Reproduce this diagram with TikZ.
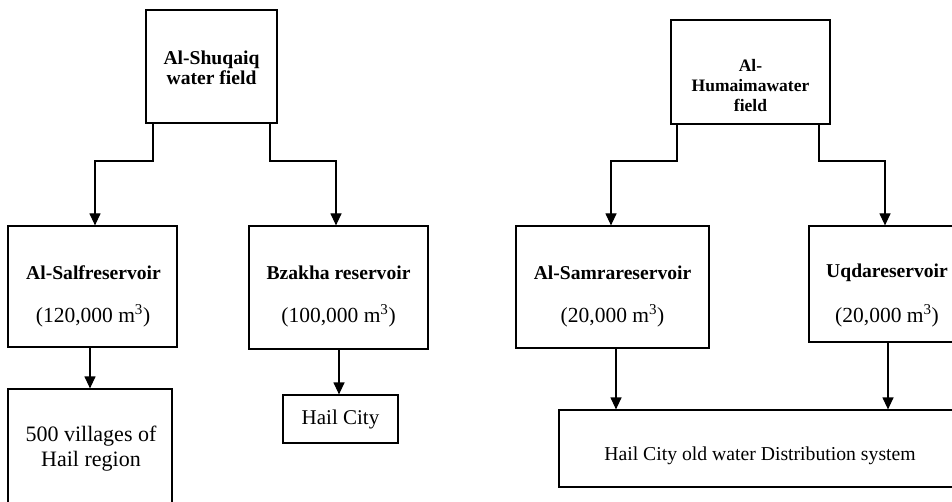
\documentclass[tikz,border=0pt]{standalone}
\usepackage{fontspec}
\setmainfont{Liberation Serif}
\usetikzlibrary{arrows.meta,calc}
\begin{document}
\begin{tikzpicture}[x=1pt,y=-1pt,
  box/.style={draw=black,line width=1.2pt,inner sep=0pt,minimum width=#1},
  lbl/.style={inner sep=0pt,align=center},
  arr/.style={line width=1.2pt,-{Triangle[width=11pt,length=12pt]}},
  ln/.style={line width=1.2pt}]
\clip (0,0) rectangle (952,502);
\fill[white] (0,0) rectangle (952,502);
% boxes
\node[box=131pt,minimum height=113pt] (shq) at (211.5,66.5) {};
\node[box=159pt,minimum height=104pt] (hum) at (750.5,72) {};
\node[box=169pt,minimum height=121pt] (salf) at (92.5,286.5) {};
\node[box=179pt,minimum height=123pt] (bza) at (338.5,287.5) {};
\node[box=193pt,minimum height=122pt] (sam) at (612.5,287) {};
\node[box=157pt,minimum height=116pt] (uqd) at (887.5,284) {};
\node[box=164pt,minimum height=120pt] (vil) at (90,449) {};
\node[box=115pt,minimum height=48pt] (hail) at (340.5,419) {};
\node[box=402pt,minimum height=77pt] (dist) at (760,448.5) {};
% texts
\node[lbl,font=\fontsize{19.6}{20}\selectfont\bfseries] (shqt) at (211.5,68) {Al-Shuqaiq\\water field};
\node[lbl,font=\fontsize{17.5}{20}\selectfont\bfseries] (humt) at (750.5,86) {Al-\\Humaimawater\\field};
\node[lbl,font=\fontsize{19.6}{20}\selectfont\bfseries] (salft) at (93.5,273) {Al-Salfreservoir};
\node[lbl,font=\fontsize{21.5}{22}\selectfont] (salfv) at (93,316) {(120,000 m\textsuperscript{3})};
\node[lbl,font=\fontsize{19.6}{20}\selectfont\bfseries] (bzat) at (338.5,273) {Bzakha reservoir};
\node[lbl,font=\fontsize{21.5}{22}\selectfont] (bzav) at (338.5,316) {(100,000 m\textsuperscript{3})};
\node[lbl,font=\fontsize{19.6}{20}\selectfont\bfseries] (samt) at (612.5,273) {Al-Samrareservoir};
\node[lbl,font=\fontsize{21.5}{22}\selectfont] (samv) at (612.5,316) {(20,000 m\textsuperscript{3})};
\node[lbl,font=\fontsize{19.6}{20}\selectfont\bfseries] (uqdt) at (887,273) {Uqdareservoir};
\node[lbl,font=\fontsize{21.5}{22}\selectfont] (uqdv) at (887,316) {(20,000 m\textsuperscript{3})};
\node[lbl,font=\fontsize{22}{25}\selectfont] (vilt) at (91,449) {500 villages of\\Hail region};
\node[lbl,font=\fontsize{21}{22}\selectfont] (hailt) at (340.5,419) {Hail City};
\node[lbl,font=\fontsize{19.7}{22}\selectfont] (distt) at (760,456) {Hail City old water Distribution system};
% connectors
\draw[arr] (shq.south -| 153,0) -- (153,161) -| (salf.north -| 95,0);
\draw[arr] (shq.south -| 270,0) -- (270,161) -| (bza.north -| 336,0);
\draw[arr] (hum.south -| 677,0) -- (677,161) -| (sam.north -| 611,0);
\draw[arr] (hum.south -| 819,0) -- (819,161) -| (uqd.north -| 885,0);
\draw[arr] (salf.south -| 90,0) -- (vil.north -| 90,0);
\draw[arr] (bza.south -| 339,0) -- (hail.north -| 339,0);
\draw[arr] (sam.south -| 616,0) -- (dist.north -| 616,0);
\draw[arr] (uqd.south -| 888,0) -- (dist.north -| 888,0);
\end{tikzpicture}
\end{document}
